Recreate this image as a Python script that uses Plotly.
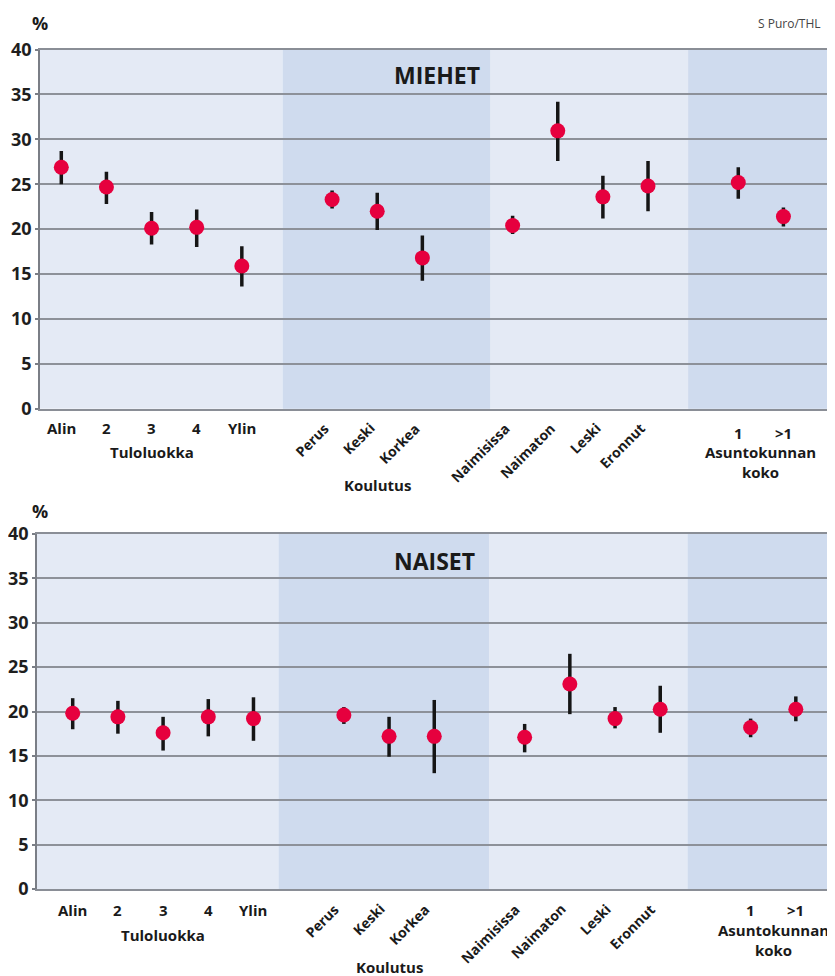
import plotly.graph_objects as go

# ---------------- data ----------------
categories = ["Alin", "2", "3", "4", "Ylin",
              "Perus", "Keski", "Korkea",
              "Naimisissa", "Naimaton", "Leski", "Eronnut",
              "1", ">1"]
group_sizes = [5, 3, 4, 2]
group_titles = ["Tuloluokka", "Koulutus", "", "Asuntokunnan<br>koko"]
rotated_labels = [False] * 5 + [True] * 7 + [False] * 2

men_value = [26.9, 24.7, 20.1, 20.2, 15.9, 23.3, 22.0, 16.8, 20.4, 30.95, 23.6, 24.8, 25.2, 21.4]
men_low = [25.0, 22.8, 18.3, 18.0, 13.6, 22.3, 19.9, 14.25, 19.45, 27.6, 21.2, 22.0, 23.4, 20.3]
men_high = [28.7, 26.4, 21.9, 22.2, 18.1, 24.3, 24.05, 19.3, 21.5, 34.2, 25.95, 27.6, 26.9, 22.4]

women_value = [19.8, 19.4, 17.6, 19.4, 19.2, 19.6, 17.2, 17.2, 17.1, 23.1, 19.2, 20.25, 18.2, 20.25]
women_low = [18.0, 17.5, 15.6, 17.2, 16.7, 18.6, 14.9, 13.05, 15.4, 19.7, 18.1, 17.6, 17.1, 18.9]
women_high = [21.5, 21.2, 19.4, 21.4, 21.6, 20.5, 19.4, 21.3, 18.6, 26.5, 20.5, 22.9, 19.2, 21.7]

y_ticks = [0, 5, 10, 15, 20, 25, 30, 35, 40]
panel_titles = ["MIEHET", "NAISET"]
y_unit = "%"
credit = "S Puro/THL"

# ---------------- layout helpers ----------------
PAGE_W, PAGE_H = 835, 976
OFF = 8  # default body margin of the page
W, H = PAGE_W - OFF, PAGE_H - OFF
FONT = "Open Sans"
LIGHT = "#e4eaf5"
DARK = "#cfdbee"
GRID = "#8d9199"
RED = "#e6003e"


def py(px):
    return 1 - (px - OFF) / H


def pxx(px):
    return (px - OFF) / W


# category positions along the axis (groups separated by one empty slot)
x_pos = []
start = 0
for size in group_sizes:
    x_pos += [start + i for i in range(size)]
    start += size + 1

group_centers = []
idx = 0
for size in group_sizes:
    group_centers.append((x_pos[idx] + x_pos[idx + size - 1]) / 2)
    idx += size

panels = [
    dict(values=men_value, low=men_low, high=men_high, title=panel_titles[0],
         xdom=(40, 829), ydom=(49.6, 408.7), xrange=(-0.472, 17.01),
         bands=[(4.91, 9.50), (13.89, 17.01)],
         title_xy=(437, 75), pct_xy=(40, 23),
         tick_y=[428] * 12 + [433, 433], rot_y=416, rot_shift=4,
         group_y=[452, 485, 0, 462]),
    dict(values=women_value, low=women_low, high=women_high, title=panel_titles[1],
         xdom=(37, 827), ydom=(534, 889), xrange=(-0.79, 16.69),
         bands=[(4.56, 9.21), (13.61, 16.69)],
         title_xy=(434, 561), pct_xy=(40, 511),
         tick_y=[910] * 14, rot_y=897, rot_shift=2,
         group_y=[935, 967, 0, 940]),
]

fig = go.Figure()
shapes = []
annotations = []
layout_axes = {}

for k, p in enumerate(panels):
    n = "" if k == 0 else str(k + 1)
    xa, ya = "x" + n, "y" + n
    err_plus = [h - v for h, v in zip(p["high"], p["values"])]
    err_minus = [v - l for v, l in zip(p["values"], p["low"])]
    fig.add_trace(go.Scatter(
        x=x_pos, y=p["values"], mode="markers",
        marker=dict(color=RED, size=15, line=dict(width=0)),
        error_y=dict(type="data", symmetric=False, array=err_plus,
                     arrayminus=err_minus, color="#151515", thickness=3.5, width=0),
        xaxis=xa, yaxis=ya, showlegend=False, hoverinfo="skip",
    ))
    layout_axes["xaxis" + n] = dict(
        domain=[pxx(p["xdom"][0]), pxx(p["xdom"][1])], range=list(p["xrange"]),
        anchor=ya, showgrid=False, zeroline=False, showticklabels=False, automargin=False,
        showline=True, mirror=True, linecolor="#8a8e96", linewidth=1.5, ticks="",
    )
    layout_axes["yaxis" + n] = dict(
        domain=[py(p["ydom"][1]), py(p["ydom"][0])], range=[0, 40], automargin=False,
        anchor=xa, tickvals=y_ticks, showgrid=True, gridcolor=GRID, gridwidth=1.5,
        zeroline=False, showline=True, mirror=True, linecolor="#7a7e86", linewidth=1.5,
        ticks="outside", ticklen=3, tickcolor="#7a7e86", tickwidth=1.5,
        tickfont=dict(family=FONT, size=18, color="#1e1e1e", weight="bold"),
    )
    for (x0, x1) in p["bands"]:
        shapes.append(dict(type="rect", xref=xa, yref=ya + " domain", x0=x0, x1=x1,
                           y0=0, y1=1, fillcolor=DARK, line=dict(width=0), layer="below"))
    # panel title
    annotations.append(dict(text=p["title"], x=pxx(p["title_xy"][0]), y=py(p["title_xy"][1]),
                            xref="paper", yref="paper", xanchor="center", yanchor="middle",
                            showarrow=False,
                            font=dict(family=FONT, size=23, color="#1a1a1a", weight="bold")))
    # % label
    annotations.append(dict(text=y_unit, x=pxx(p["pct_xy"][0]), y=py(p["pct_xy"][1]),
                            xref="paper", yref="paper", xanchor="center", yanchor="middle",
                            showarrow=False,
                            font=dict(family=FONT, size=18, color="#1a1a1a", weight="bold")))
    # category labels
    for i, (cat, xp) in enumerate(zip(categories, x_pos)):
        if rotated_labels[i]:
            annotations.append(dict(text=cat, x=xp, y=py(p["rot_y"]), xref=xa, yref="paper",
                                    xanchor="right", yanchor="top", textangle=-45,
                                    xshift=p["rot_shift"], showarrow=False,
                                    font=dict(family=FONT, size=14, color="#1a1a1a", weight="bold")))
        else:
            annotations.append(dict(text=cat, x=xp, y=py(p["tick_y"][i]), xref=xa, yref="paper",
                                    xanchor="center", yanchor="middle", showarrow=False,
                                    font=dict(family=FONT, size=15, color="#1a1a1a", weight="bold")))
    # group titles
    for g, (title, xc) in enumerate(zip(group_titles, group_centers)):
        if not title:
            continue
        annotations.append(dict(text=title, x=xc, y=py(p["group_y"][g]), xref=xa, yref="paper",
                                xanchor="center", yanchor="middle", showarrow=False,
                                font=dict(family=FONT, size=15, color="#1a1a1a", weight="bold")))

annotations.append(dict(text=credit, x=pxx(789), y=py(24), xref="paper", yref="paper",
                        xanchor="center", yanchor="middle", showarrow=False,
                        font=dict(family=FONT, size=12, color="#444444")))

fig.update_layout(
    width=W, height=H, autosize=False,
    margin=dict(l=0, r=0, t=0, b=0),
    paper_bgcolor="white", plot_bgcolor=LIGHT,
    shapes=shapes, annotations=annotations,
    **layout_axes,
)

fig.write_html("out.html")
